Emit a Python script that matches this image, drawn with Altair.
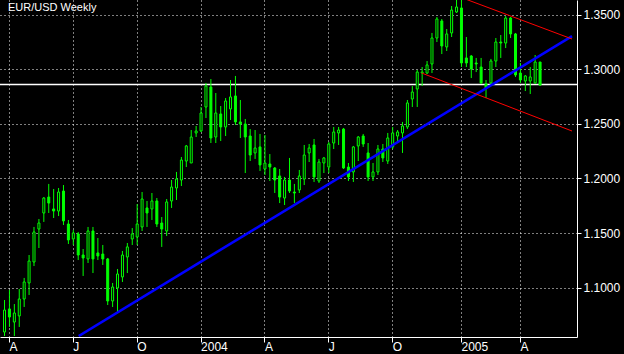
import altair as alt
import pandas as pd

# Weekly EUR/USD candles (week index 0 = first week of April 2003)
weeks = list(range(-1, 109))
opens = [1.0594, 1.0805, 1.0685, 1.0741, 1.0896, 1.1043, 1.1235, 1.1537, 1.1684, 1.1830,
         1.1721, 1.1702, 1.1885, 1.1583, 1.1446, 1.1492, 1.1299, 1.1263, 1.1519, 1.1318,
         1.1308, 1.1263, 1.0878, 1.0997, 1.1098, 1.1281, 1.1446, 1.1464, 1.1556, 1.1730,
         1.1721, 1.1794, 1.1592, 1.1519, 1.1794, 1.1913, 1.1986, 1.2160, 1.2142, 1.2417,
         1.2435, 1.2655, 1.2838, 1.2380, 1.2591, 1.2472, 1.2637, 1.2756, 1.2518, 1.2499,
         1.2389, 1.2234, 1.2289, 1.2087, 1.2133, 1.2096, 1.2023, 1.1821, 1.1986, 1.1876,
         1.1895, 1.1995, 1.2234, 1.2307, 1.1977, 1.2142, 1.2105, 1.2325, 1.2417, 1.2453,
         1.2105, 1.2060, 1.2298, 1.2389, 1.2234, 1.2014, 1.2060, 1.2270, 1.2160, 1.2289,
         1.2389, 1.2417, 1.2472, 1.2728, 1.2820, 1.2966, 1.2966, 1.3049, 1.3287, 1.3443,
         1.3205, 1.3333, 1.3525, 1.3562, 1.3104, 1.3122, 1.3058, 1.3021, 1.2866, 1.2875,
         1.3076, 1.3250, 1.3241, 1.3470, 1.3324, 1.2966, 1.2893, 1.2893, 1.2875, 1.3067]
highs = [1.0887, 1.0979, 1.0850, 1.0988, 1.1089, 1.1299, 1.1556, 1.1629, 1.1830, 1.1950,
         1.1904, 1.1913, 1.1940, 1.1620, 1.1528, 1.1510, 1.1354, 1.1556, 1.1556, 1.1455,
         1.1391, 1.1272, 1.1043, 1.1171, 1.1336, 1.1409, 1.1546, 1.1766, 1.1876, 1.1794,
         1.1867, 1.1821, 1.1647, 1.1812, 1.1986, 1.2060, 1.2197, 1.2307, 1.2444, 1.2481,
         1.2655, 1.2875, 1.2911, 1.2783, 1.2664, 1.2737, 1.2902, 1.2939, 1.2719, 1.2545,
         1.2453, 1.2444, 1.2408, 1.2398, 1.2224, 1.2105, 1.2087, 1.2014, 1.2188, 1.1950,
         1.2078, 1.2307, 1.2316, 1.2362, 1.2179, 1.2197, 1.2334, 1.2472, 1.2472, 1.2463,
         1.2142, 1.2298, 1.2389, 1.2408, 1.2325, 1.2142, 1.2307, 1.2316, 1.2417, 1.2472,
         1.2444, 1.2518, 1.2719, 1.2847, 1.2994, 1.3021, 1.3076, 1.3333, 1.3479, 1.3461,
         1.3369, 1.3580, 1.3650, 1.3667, 1.3296, 1.3131, 1.3104, 1.3104, 1.2902, 1.3095,
         1.3287, 1.3314, 1.3488, 1.3479, 1.3333, 1.3058, 1.2948, 1.3021, 1.3131, 1.3067]
lows = [1.0557, 1.0640, 1.0557, 1.0640, 1.0823, 1.0933, 1.1198, 1.1363, 1.1602, 1.1684,
        1.1638, 1.1656, 1.1574, 1.1400, 1.1391, 1.1253, 1.1107, 1.1226, 1.1134, 1.1253,
        1.1208, 1.0841, 1.0823, 1.0768, 1.1052, 1.1134, 1.1391, 1.1391, 1.1519, 1.1556,
        1.1620, 1.1556, 1.1373, 1.1473, 1.1730, 1.1803, 1.1931, 1.2105, 1.2142, 1.2380,
        1.2426, 1.2554, 1.2325, 1.2325, 1.2343, 1.2389, 1.2536, 1.2490, 1.2371, 1.2050,
        1.2160, 1.2179, 1.2069, 1.2032, 1.1977, 1.1867, 1.1775, 1.1757, 1.1867, 1.1775,
        1.1867, 1.1940, 1.2151, 1.1968, 1.1959, 1.2050, 1.2050, 1.2270, 1.2307, 1.2087,
        1.1977, 1.1968, 1.2160, 1.2289, 1.1977, 1.1977, 1.2032, 1.2151, 1.2133, 1.2270,
        1.2325, 1.2234, 1.2453, 1.2655, 1.2655, 1.2847, 1.2957, 1.2966, 1.3250, 1.3140,
        1.3168, 1.3296, 1.3516, 1.3021, 1.3021, 1.2920, 1.2975, 1.2866, 1.2737, 1.2866,
        1.3021, 1.3104, 1.3195, 1.3287, 1.2930, 1.2875, 1.2801, 1.2774, 1.2866, 1.2847]
closes = [1.0795, 1.0731, 1.0768, 1.0896, 1.1052, 1.1244, 1.1510, 1.1592, 1.1821, 1.1775,
          1.1702, 1.1876, 1.1611, 1.1437, 1.1501, 1.1299, 1.1272, 1.1519, 1.1263, 1.1290,
          1.1263, 1.0878, 1.1006, 1.1125, 1.1299, 1.1373, 1.1492, 1.1583, 1.1812, 1.1684,
          1.1794, 1.1583, 1.1537, 1.1785, 1.1922, 1.1995, 1.2169, 1.2298, 1.2380, 1.2435,
          1.2600, 1.2847, 1.2371, 1.2600, 1.2472, 1.2710, 1.2747, 1.2518, 1.2499, 1.2380,
          1.2215, 1.2279, 1.2124, 1.2142, 1.2105, 1.1986, 1.1830, 1.1986, 1.1885, 1.1867,
          1.2023, 1.2215, 1.2279, 1.2014, 1.2151, 1.2188, 1.2316, 1.2426, 1.2444, 1.2096,
          1.2014, 1.2289, 1.2380, 1.2316, 1.2014, 1.2060, 1.2270, 1.2188, 1.2371, 1.2417,
          1.2426, 1.2481, 1.2692, 1.2792, 1.2975, 1.2975, 1.3040, 1.3287, 1.3461, 1.3214,
          1.3324, 1.3543, 1.3571, 1.3058, 1.3058, 1.3003, 1.3049, 1.2875, 1.2829, 1.3076,
          1.3250, 1.3241, 1.3470, 1.3324, 1.2948, 1.2902, 1.2939, 1.2930, 1.3067, 1.2856]

tick_weeks = [0, 13, 26, 39, 52, 65, 78, 92, 104]
tick_labels = ["A", "J", "O", "2004", "A", "J", "O", "2005", "A"]
price_ticks = [1.10, 1.15, 1.20, 1.25, 1.30, 1.35]

support_level = 1.2861
trend_weeks = [14.2, 114.6]
trend_prices = [1.0557, 1.3305]
upper_weeks = [92, 114.6]
upper_prices = [1.3659, 1.3278]
lower_weeks = [84, 114.6]
lower_prices = [1.2966, 1.2435]

df = pd.DataFrame({"week": weeks, "open": opens, "high": highs, "low": lows, "close": closes})

W, H = 577, 337
GREEN = "#00ff00"
xscale = alt.Scale(domain=[-0.8, 114.6], nice=False, zero=False)
yscale = alt.Scale(domain=[1.0548, 1.3635], nice=False, zero=False)

label_expr = "[" + ",".join("'%s'" % l for l in tick_labels) + "][indexof([" + \
    ",".join(str(t) for t in tick_weeks) + "], datum.value)]"

xaxis = alt.Axis(values=tick_weeks, labelExpr=label_expr, title=None, orient="bottom",
                 grid=True, gridColor="white", gridDash=[1, 3], gridOpacity=1, gridWidth=1,
                 domainColor="white", domainWidth=1, tickColor="white", tickSize=5,
                 labelColor="white", labelFont="Liberation Sans", labelFontSize=12,
                 labelAlign="left", labelPadding=-1, labelFlush=False, labelOverlap=False,
                 labelBaseline="top")
yaxis = alt.Axis(values=price_ticks, format=".4f", title=None, orient="right",
                 grid=True, gridColor="white", gridDash=[1, 3], gridOpacity=1, gridWidth=1,
                 domainColor="white", domainWidth=1, tickColor="white", tickSize=4,
                 labelColor="white", labelFont="Liberation Sans", labelFontSize=12,
                 labelPadding=2, labelFlush=False, labelOverlap=False)

base = alt.Chart(df)

grid = base.mark_rule(opacity=0).encode(
    x=alt.X("week:Q", scale=xscale, axis=xaxis),
    y=alt.Y("low:Q", scale=yscale, axis=yaxis),
)

support = alt.Chart(pd.DataFrame({"level": [support_level]})).mark_rule(
    color="white", strokeWidth=1.3, clip=True
).encode(y=alt.Y("level:Q", scale=yscale))

wicks = base.mark_rule(color=GREEN, strokeWidth=1, clip=True, xOffset=0.5).encode(
    x=alt.X("week:Q", scale=xscale),
    y=alt.Y("low:Q", scale=yscale),
    y2="high:Q",
)

bodies = base.mark_bar(size=2, stroke=GREEN, strokeWidth=1, clip=True, xOffset=0.5).encode(
    x=alt.X("week:Q", scale=xscale),
    y=alt.Y("open:Q", scale=yscale),
    y2="close:Q",
    fill=alt.condition(alt.datum.close > alt.datum.open, alt.value("black"), alt.value(GREEN)),
)

def line(ws, ps, color, width):
    d = pd.DataFrame({"week": ws, "price": ps})
    return alt.Chart(d).mark_line(color=color, strokeWidth=width, clip=True).encode(
        x=alt.X("week:Q", scale=xscale),
        y=alt.Y("price:Q", scale=yscale),
    )

trend = line(trend_weeks, trend_prices, "#0000ff", 2.6)
upper = line(upper_weeks, upper_prices, "#ff0000", 1)
lower = line(lower_weeks, lower_prices, "#ff0000", 1)

title = alt.Chart(pd.DataFrame({"t": ["EUR/USD Weekly"]})).mark_text(
    align="left", baseline="alphabetic", color="white", font="Liberation Sans", fontSize=11
).encode(x=alt.value(8), y=alt.value(11), text="t:N")

chart = alt.layer(grid, support, wicks, bodies, trend, upper, lower, title).properties(
    width=W, height=H,
    padding={"left": 0, "top": 0, "right": 47, "bottom": 17},
    autosize=alt.AutoSizeParams(type="none"),
    background="black",
).configure_view(strokeWidth=0)

chart.save("out.html", embed_options={"renderer": "svg", "actions": False})
